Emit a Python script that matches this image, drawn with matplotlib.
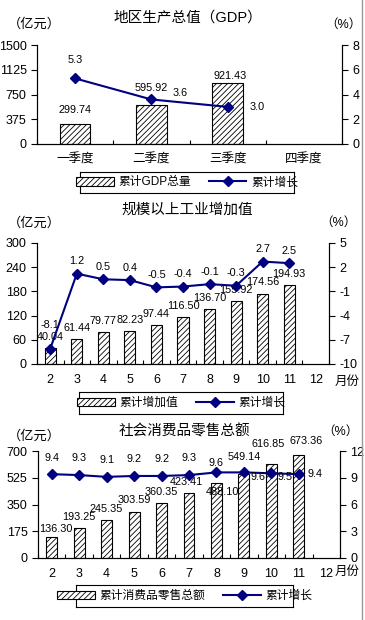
import matplotlib
matplotlib.use("Agg")
import matplotlib.pyplot as plt
from matplotlib.lines import Line2D
import numpy as np

plt.rcParams['font.family'] = ['Liberation Sans', 'Noto Sans CJK SC', 'DejaVu Sans']
plt.rcParams['hatch.linewidth'] = 0.6
plt.rcParams['axes.unicode_minus'] = False

# ---- data ----
gdp_cats = ['一季度', '二季度', '三季度', '四季度']
gdp_total = [299.74, 595.92, 921.43]
gdp_growth = [5.3, 3.6, 3.0]

months = ['2', '3', '4', '5', '6', '7', '8', '9', '10', '11', '12']
ind_value = [40.04, 61.44, 79.77, 82.23, 97.44, 116.50, 136.70, 155.92, 174.56, 194.93]
ind_growth = [-8.1, 1.2, 0.5, 0.4, -0.5, -0.4, -0.1, -0.3, 2.7, 2.5]

retail_value = [136.30, 193.25, 245.35, 303.59, 360.35, 423.41, 488.10, 549.14, 616.85, 673.36]
retail_growth = [9.4, 9.3, 9.1, 9.2, 9.2, 9.3, 9.6, 9.6, 9.5, 9.4]

NAVY = '#000080'
W, H = 365, 620
fig = plt.figure(figsize=(W / 100, H / 100), dpi=100)


def px_axes(x0, y0, x1, y1):
    return fig.add_axes([x0 / W, 1 - y1 / H, (x1 - x0) / W, (y1 - y0) / H])


def ftext(x, y, s, **kw):
    fig.text(x / W, 1 - y / H, s, **kw)


def panel(box, cats, vals, growth, ylim, yticks, y2lim, y2ticks,
          bar_w, bar_off, line_off, title, title_xy, unit_y, pct_xy,
          leg_box, bar_name, month_xy=None):
    ax = px_axes(*box)
    n = len(cats)
    x = np.arange(n)
    xb = np.arange(len(vals))
    bars = ax.bar(xb, vals, width=bar_w, color='white', edgecolor='black',
                  hatch='//////', linewidth=0.8, zorder=2)
    ax.set_xlim(-0.5, n - 0.5)
    ax.set_ylim(*ylim)
    ax.set_yticks(yticks)
    ax.set_xticks(x)
    ax.set_xticks(np.arange(n + 1) - 0.5, minor=True)
    ax.set_xticklabels(cats, fontsize=9)
    ax.tick_params(axis='y', labelsize=9, length=4, width=0.8)
    ax.tick_params(axis='x', which='major', length=0, pad=7)
    ax.tick_params(axis='x', which='minor', direction='in', length=3, width=0.8)
    ax.spines['top'].set_visible(False)
    for s in ax.spines.values():
        s.set_linewidth(0.8)
    ax2 = ax.twinx()
    ax2.set_ylim(*y2lim)
    ax2.set_yticks(y2ticks)
    ax2.tick_params(axis='y', labelsize=9, length=4, width=0.8)
    ax2.spines['top'].set_visible(False)
    for s in ax2.spines.values():
        s.set_linewidth(0.8)
    xl = np.arange(len(growth))
    ax2.plot(xl, growth, color=NAVY, marker='D', markersize=5,
             linewidth=1.5, zorder=3)
    for i, v in enumerate(vals):
        dx, dy = bar_off[i]
        ax.annotate(f'{v:.2f}', (xb[i], v), xytext=(dx, dy),
                    textcoords='offset points', ha='center', va='center',
                    fontsize=7.8)
    for i, v in enumerate(growth):
        dx, dy = line_off[i]
        ax2.annotate(f'{v:.1f}', (xl[i], v), xytext=(dx, dy),
                     textcoords='offset points', ha='center', va='center',
                     fontsize=7.8, zorder=5)
    ftext(title_xy[0], title_xy[1], title, ha='center', va='center', fontsize=10.5)
    ftext(8, unit_y, '（亿元）', ha='left', va='center', fontsize=9.5)
    ftext(pct_xy[0], pct_xy[1], '（%）', ha='center', va='center', fontsize=9)
    if month_xy:
        ftext(month_xy[0], month_xy[1], '月份', ha='center', va='center', fontsize=9)
    lx0, ly0, lx1, ly1 = leg_box
    lax = px_axes(lx0, ly0, lx1, ly1)
    lax.set_xticks([])
    lax.set_yticks([])
    for s in lax.spines.values():
        s.set_linewidth(0.8)
    handles = [bars.patches[0],
               Line2D([], [], color=NAVY, marker='D', markersize=5, linewidth=1.5)]
    lax.legend(handles, [bar_name, '累计增长'], loc='center', ncol=2,
               frameon=False, fontsize=8.5, handlelength=3.2, handletextpad=0.4,
               columnspacing=1.5, borderpad=0)
    return ax


panel((37, 45, 342, 144), gdp_cats, gdp_total, gdp_growth,
      (0, 1500), [0, 375, 750, 1125, 1500], (0, 8), [0, 2, 4, 6, 8],
      0.4, [(0, 10), (0, 12), (2, 5)], [(0, 13), (21, 5), (21, 0)],
      '地区生产总值（GDP）', (188, 18), 24, (343, 25),
      (80, 172, 294, 193), '累计GDP总量')

panel((37, 243, 329, 364), months, ind_value, ind_growth,
      (0, 300), [0, 60, 120, 180, 240, 300], (-10, 5), [-10, -7, -4, -1, 2, 5],
      0.42, [(0, 8), (0, 8), (0, 8), (0, 8), (0, 8), (0, 8), (0, 8), (0, 8), (0, 8), (0, 8)],
      [(0, 17), (0, 9), (0, 9), (0, 9), (0, 9), (0, 9), (0, 9), (0, 9), (0, 9), (0, 9)],
      '规模以上工业增加值', (187, 210), 223, (338, 223),
      (79, 392, 283, 414), '累计增加值', month_xy=(347, 382))

panel((38, 451, 340, 558), months, retail_value, retail_growth,
      (0, 700), [0, 175, 350, 525, 700], (0, 12), [0, 3, 6, 9, 12],
      0.4, [(3, 6), (0, 8), (0, 8), (0, 8), (0, 8), (-2, 8), (4, -6), (0, 12), (-2, 14), (5, 10)],
      [(0, 12), (0, 12), (0, 12), (0, 12), (0, 12), (0, 12), (0, 7), (10, -3), (10, -3), (12, 0)],
      '社会消费品零售总额', (184, 431), 436, (340, 432),
      (76, 585, 293, 607), '累计消费品零售总额', month_xy=(347, 572))

fig.add_artist(Line2D([362 / W, 362 / W], [0, 1], color='#999999', linewidth=1))

fig.savefig('out.png', dpi=100)
